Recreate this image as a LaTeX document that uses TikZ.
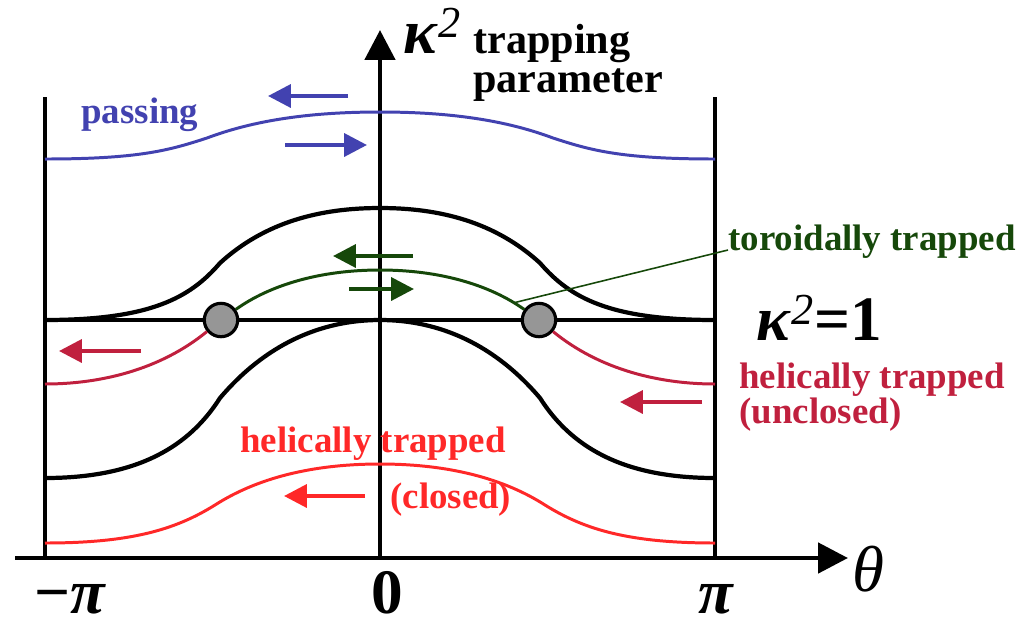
\documentclass[tikz,border=0pt]{standalone}
\usepackage{fontspec}
\setmainfont{Liberation Serif}
\usetikzlibrary{arrows.meta}
\definecolor{passblue}{RGB}{66,66,176}
\definecolor{torgreen}{RGB}{22,72,10}
\definecolor{helcrim}{RGB}{192,32,62}
\definecolor{helred}{RGB}{255,40,40}
\definecolor{dotgray}{RGB}{150,150,150}
\begin{document}
\begin{tikzpicture}[x=0.02cm,y=-0.02cm,
  axis/.style={line width=2.8pt,-{Triangle[length=17pt,width=17pt]}},
  frame/.style={line width=2.8pt},
  sep/.style={line width=2.4pt},
  orbit/.style={line width=1.7pt},
  flow/.style={line width=2.2pt,-{Triangle[length=13pt,width=13pt]}},
  lab/.style={font=\fontsize{21}{24}\selectfont\bfseries, inner sep=0, anchor=base west},
  big/.style={font=\fontsize{36}{40}\selectfont\bfseries, inner sep=0},
  xp/.style={circle,draw,line width=1.8pt,fill=dotgray,minimum size=19pt,inner sep=0}]
\useasboundingbox (0,0) rectangle (1036,627);
% coordinates
\coordinate (xs) at (15,558);
\coordinate (xe) at (848,558);
\coordinate (ys) at (380,558);
\coordinate (ye) at (380,30);
\coordinate (lt) at (45,97);
\coordinate (lb) at (45,558);
\coordinate (rt) at (715,97);
\coordinate (rb) at (715,558);
\coordinate (sl) at (45,320);
\coordinate (sr) at (715,320);
% frame and axes
\draw[frame] (lt) -- (lb);
\draw[frame] (rt) -- (rb);
\draw[axis] (xs) -- (xe);
\draw[axis] (ys) -- (ye);
% separatrix line
\draw[sep] (sl) -- (sr);
% upper separatrix
\draw[sep] (sl) .. controls (150,320) and (190,298) .. (220,263)
  .. controls (265,222) and (320,208) .. (380,208)
  .. controls (440,208) and (495,222) .. (540,263)
  .. controls (570,298) and (610,320) .. (sr);
% lower separatrix
\draw[sep] (45,478) .. controls (140,478) and (190,445) .. (220,398)
  .. controls (265,345) and (320,320) .. (380,320)
  .. controls (440,320) and (495,345) .. (540,398)
  .. controls (570,445) and (620,478) .. (715,478);
% passing
\draw[orbit,passblue] (45,159) .. controls (140,159) and (170,150) .. (207,138)
  .. controls (260,118) and (320,112) .. (380,112)
  .. controls (440,112) and (500,118) .. (553,138)
  .. controls (590,150) and (620,159) .. (715,159);
% helically trapped closed
\draw[orbit,helred] (45,543) .. controls (130,543) and (175,530) .. (215,505)
  .. controls (262,475) and (320,464) .. (380,464)
  .. controls (440,464) and (498,475) .. (545,505)
  .. controls (585,530) and (630,543) .. (715,543);
% points
\node[xp] (xl) at (221,320) {};
\node[xp] (xr) at (539,320) {};
% toroidally trapped
\coordinate (tg) at (513,303);
\draw[orbit,torgreen] (xl) .. controls (270,285) and (320,270) .. (380,270)
  .. controls (440,270) and (490,285) .. (xr);
% helically trapped unclosed
\draw[orbit,helcrim] (xl) .. controls (160,370) and (100,384) .. (45,384);
\draw[orbit,helcrim] (xr) .. controls (600,370) and (660,384) .. (715,384);
% flow arrows
\coordinate (b1s) at (348,96);  \coordinate (b1e) at (268,96);
\coordinate (b2s) at (285,145); \coordinate (b2e) at (367,145);
\coordinate (g1s) at (413,256); \coordinate (g1e) at (333,256);
\coordinate (g2s) at (349,289); \coordinate (g2e) at (414,289);
\coordinate (c1s) at (141,351); \coordinate (c1e) at (59,351);
\coordinate (c2s) at (702,402); \coordinate (c2e) at (620,402);
\coordinate (r1s) at (365,496); \coordinate (r1e) at (284,496);
\draw[flow,passblue] (b1s) -- (b1e);
\draw[flow,passblue] (b2s) -- (b2e);
\draw[flow,torgreen] (g1s) -- (g1e);
\draw[flow,torgreen] (g2s) -- (g2e);
\draw[flow,helcrim] (c1s) -- (c1e);
\draw[flow,helcrim] (c2s) -- (c2e);
\draw[flow,helred] (r1s) -- (r1e);
% labels
\node[lab,passblue] (lpass) at (81,123) {passing};
\node[lab,torgreen] (ltor) at (728,250) {toroidally trapped};
\draw[torgreen,line width=0.9pt] (tg) -- (ltor.base west);
\node[lab,helcrim] (lhu1) at (739,388) {helically trapped};
\node[lab,helcrim] (lhu2) at (739,423) {(unclosed)};
\node[lab,helred] (lhc1) at (240,452) {helically trapped};
\node[lab,helred] (lhc2) at (390,508) {(closed)};
\node[lab,font=\fontsize{24}{28}\selectfont\bfseries] (ltrap) at (473,53) {trapping};
\node[lab,font=\fontsize{24}{28}\selectfont\bfseries] (lparam) at (473,92) {parameter};
\node[big,anchor=base west] (lkap) at (403,53) {\textit{κ}$^{\mathit{2}}$};
\node[big,anchor=base west] (lk1) at (756,340) {\textit{κ}$^{\mathit{2}}$=1};
\node[big,anchor=base west,font=\fontsize{37}{40}\selectfont\itshape] (lth) at (852,591) {θ};
\node[big,anchor=base] (lmpi) at (70,613) {\textbf{−}\textit{π}};
\node[big,anchor=base] (lzero) at (387,613) {0};
\node[big,anchor=base] (lpi) at (716,613) {\textit{π}};
\end{tikzpicture}
\end{document}
